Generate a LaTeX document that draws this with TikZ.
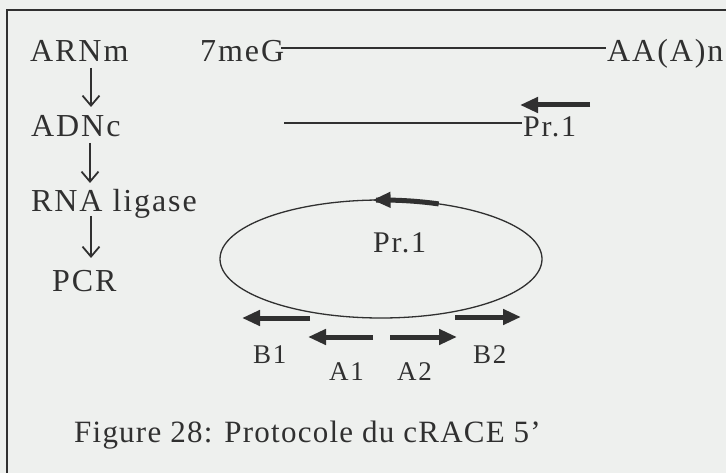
\documentclass[tikz,border=0pt]{standalone}
\usepackage{fontspec}
\setmainfont{Liberation Serif}
\newfontfamily\spacedserif[LetterSpace=6]{Liberation Serif}
\newfontfamily\capserif[LetterSpace=4]{Liberation Serif}
\usetikzlibrary{arrows.meta,shapes.geometric}
\definecolor{ink}{HTML}{303030}
\definecolor{paper}{HTML}{EEF0EE}
\tikzset{
  lbl/.style={font=\spacedserif\fontsize{32}{33}\selectfont, text=ink, inner sep=0pt, anchor=base west},
  prlbl/.style={font=\spacedserif\fontsize{30}{31}\selectfont, text=ink, inner sep=0pt, anchor=base west},
  smalllbl/.style={font=\spacedserif\fontsize{27}{28}\selectfont, text=ink, inner sep=0pt, anchor=base west},
  caplbl/.style={font=\capserif\fontsize{31}{32}\selectfont, text=ink, inner sep=0pt, anchor=base west},
  vdown/.style={draw=ink, line width=1.8pt, -{Straight Barb[length=10pt,width=17pt]}},
  fatarrow/.style={draw=ink, line width=5pt, -{Triangle[length=18pt,width=15pt]}},
  strand/.style={draw=ink, line width=1.6pt},
}
\begin{document}
\begin{tikzpicture}[x=1pt,y=-1pt]
\fill[paper] (0,0) rectangle (726,473);
\useasboundingbox (0,0) rectangle (726,473);
% frame
\draw[ink, line width=2pt] (7,473) -- (7,10) -- (726,10);

% left column
\node[lbl] (arnm) at (30,62) {ARNm};
\node[lbl] (adnc) at (31,137) {ADNc};
\node[lbl] (lig) at (31,212) {RNA ligase};
\node[lbl] (pcr) at (52,292) {PCR};
\coordinate (a1s) at (91,68);  \coordinate (a1e) at (91,107);
\coordinate (a2s) at (90,143); \coordinate (a2e) at (90,183);
\coordinate (a3s) at (91,216); \coordinate (a3e) at (91,258);
\draw[vdown] (a1s) -- (a1e);
\draw[vdown] (a2s) -- (a2e);
\draw[vdown] (a3s) -- (a3e);

% mRNA strand
\node[lbl] (meg) at (200,62) {7meG};
\node[lbl] (aan) at (607,62) {AA(A)n};
\coordinate (m1) at (281,48); \coordinate (m2) at (606,48);
\draw[strand] (m1) -- (m2);

% cDNA strand
\node[prlbl] (pr1a) at (523,137) {Pr.1};
\coordinate (c1) at (284,123); \coordinate (c2) at (522,123);
\draw[strand] (c1) -- (c2);
\coordinate (p1s) at (590,105); \coordinate (p1e) at (520,105);
\draw[fatarrow] (p1s) -- (p1e);

% circle
\node[draw=ink, line width=1.3pt, ellipse, minimum width=322pt, minimum height=118pt, inner sep=0pt] (loop) at (381,259) {};
\node[prlbl] (pr1b) at (373,253) {Pr.1};
\draw[fatarrow] plot[domain=69:93, samples=20] ({381+161*cos(\x)},{259-59*sin(\x)});

% primers
\coordinate (b1s) at (310,318); \coordinate (b1e) at (242,318);
\coordinate (a1ps) at (373,337); \coordinate (a1pe) at (308,337);
\coordinate (a2ps) at (390,337); \coordinate (a2pe) at (457,337);
\coordinate (b2s) at (455,317); \coordinate (b2e) at (521,317);
\draw[fatarrow] (b1s) -- (b1e);
\draw[fatarrow] (a1ps) -- (a1pe);
\draw[fatarrow] (a2ps) -- (a2pe);
\draw[fatarrow] (b2s) -- (b2e);
\node[smalllbl] (lb1) at (253,363) {B1};
\node[smalllbl] (la1) at (329,380) {A1};
\node[smalllbl] (la2) at (397,380) {A2};
\node[smalllbl] (lb2) at (473,363) {B2};

% caption
\node[caplbl] (cap) at (74,442) {Figure 28: Protocole du cRACE 5’};
\end{tikzpicture}
\end{document}
